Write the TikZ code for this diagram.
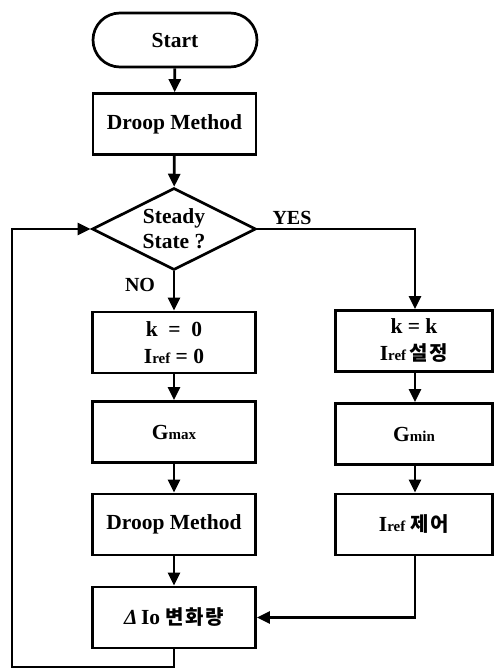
\documentclass[tikz,border=0pt]{standalone}
\usepackage{fontspec}
\setmainfont{Liberation Serif}
\newfontfamily\krfont[LetterSpace=8]{Noto Sans CJK KR}
\usetikzlibrary{shapes.geometric,shapes.misc,arrows.meta}

\newcommand{\subtxt}[1]{{\fontsize{15}{15}\selectfont #1}}
\newcommand{\kr}[1]{{\krfont\fontsize{20}{20}\selectfont #1}}

\tikzset{
  flowbox/.style={draw, rectangle, line width=2.7pt, minimum width=163pt, minimum height=61pt,
    inner sep=0pt, align=center, font=\fontsize{21.5}{27}\selectfont\bfseries},
  termbox/.style={draw, rounded rectangle, line width=2.7pt, minimum width=164pt, minimum height=54pt,
    inner sep=0pt, font=\fontsize{21.5}{24}\selectfont\bfseries},
  decbox/.style={draw, diamond, aspect=2, line width=2.7pt, minimum width=164pt, minimum height=82pt,
    inner sep=0pt, align=center, font=\fontsize{21.5}{25}\selectfont\bfseries},
  flowarrow/.style={line width=2.7pt, -{Triangle[length=13pt,width=12pt]}},
  lbl/.style={font=\fontsize{20}{20}\selectfont\bfseries}
}

\begin{document}
\begin{tikzpicture}[x=1pt,y=-1pt]
    \useasboundingbox (0,0) rectangle (493,671);

    % Début
    \node[termbox] (start) at (175, 40) {Start};
    \node[flowbox] (droop1) at (174.5, 124) {Droop Method};

    % Décision
    \node[decbox] (steady) at (174, 229) {Steady\\State ?};

    % Branche NO
    \node[flowbox] (init) at (174, 342.5) {k \ = \ 0\\I\subtxt{ref} = 0};
    \node[flowbox] (gmax) at (174, 432) {G\subtxt{max}};
    \node[flowbox] (droop2) at (174, 524.5) {Droop Method};
    \node[flowbox] (delta) at (174, 617.5) {{\itshape Δ}\,Io \kr{변화량}};

    % Branche YES
    \node[flowbox, minimum width=157pt] (keep) at (414, 341) {k = k\\I\subtxt{ref}\,\kr{설정}};
    \node[flowbox, minimum width=157pt] (gmin) at (414, 434) {G\subtxt{min}};
    \node[flowbox, minimum width=157pt] (ctrl) at (414, 524.5) {I\subtxt{ref}\ \kr{제어}};

    % Points de passage
    \coordinate (yescorner) at (415, 229);
    \coordinate (ctrlcorner) at (415, 617.5);
    \coordinate (loopbot) at (174, 667);
    \coordinate (loopleft) at (12, 667);
    \coordinate (looptop) at (12, 229);

    % Étiquettes
    \node[lbl] (yes) at (292, 218) {YES};
    \node[lbl] (no) at (140, 285) {NO};

    % Flèches principales
    \draw[flowarrow] (start) -- (droop1);
    \draw[flowarrow] (droop1) -- (steady);
    \draw[flowarrow] (steady) -- (init);
    \draw[flowarrow] (init) -- (gmax);
    \draw[flowarrow] (gmax) -- (droop2);
    \draw[flowarrow] (droop2) -- (delta);

    % Flèches YES
    \draw[flowarrow] (steady.east) -- (yescorner) -- (keep.north -| yescorner);
    \draw[flowarrow] (keep.south -| yescorner) -- (gmin.north -| yescorner);
    \draw[flowarrow] (gmin.south -| yescorner) -- (ctrl.north -| yescorner);
    \draw[flowarrow] (ctrl.south -| yescorner) -- (ctrlcorner) -- (delta.east);

    % Boucle
    \draw[flowarrow] (delta.south) -- (loopbot) -- (loopleft) -- (looptop) -- (steady.west);

\end{tikzpicture}
\end{document}
